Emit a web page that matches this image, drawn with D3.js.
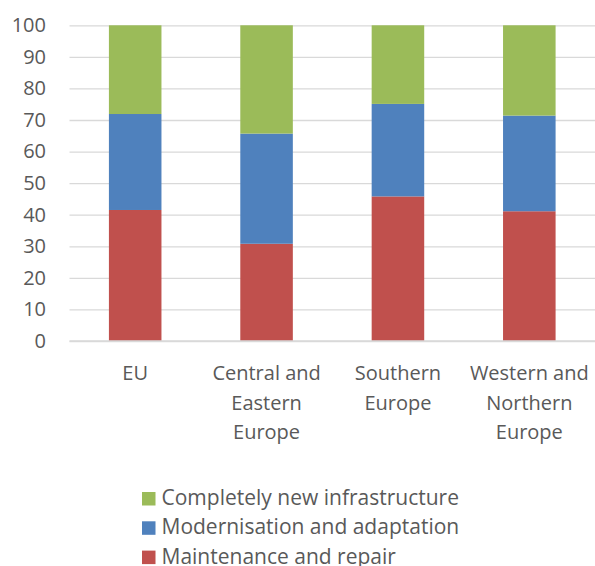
<!DOCTYPE html>
<html>
    <head>
        <script type="text/javascript" src="https://d3js.org/d3.v7.min.js"></script>
        <style>
            body { margin: 0; background: #fff; }
            text { font-family: "Open Sans", "Liberation Sans", sans-serif; fill: #595959; }
        </style>
    </head>
    <body>
        <svg id="chart" width="595" height="566"></svg>
        <script type="text/javascript">
            // data
            const regions = ["EU", "Central and Eastern Europe", "Southern Europe", "Western and Northern Europe"];
            const regionLines = [["EU"], ["Central and", "Eastern", "Europe"], ["Southern", "Europe"], ["Western and", "Northern", "Europe"]];
            const maintenance = [41.5, 30.8, 45.8, 41.1];
            const modernisation = [30.4, 34.9, 29.3, 30.3];
            const completelyNew = [28.1, 34.3, 24.9, 28.6];
            const seriesNames = ["Maintenance and repair", "Modernisation and adaptation", "Completely new infrastructure"];
            const seriesColors = ["#c0504d", "#4f81bd", "#9bbb59"];
            const yTicks = [0, 10, 20, 30, 40, 50, 60, 70, 80, 90, 100];

            const svg = d3.select("#chart");
            const plotLeft = 69.5, plotRight = 595, plotTop = 25.3, plotBottom = 341;

            const x = d3.scaleBand().domain(regions).range([plotLeft, plotRight]).paddingInner(0.6).paddingOuter(0.3);
            const y = d3.scaleLinear().domain([0, 100]).range([plotBottom, plotTop]);

            // gridlines
            svg.append("g")
                .attr("transform", "translate(" + plotLeft + ",0)")
                .call(d3.axisLeft(y).tickValues(yTicks).tickSize(-(plotRight - plotLeft)).tickFormat(""))
                .call(g => g.select(".domain").remove())
                .call(g => g.selectAll("line").attr("stroke", "#d9d9d9").attr("stroke-width", 1.3));

            // y tick labels
            svg.append("g")
                .attr("transform", "translate(" + (plotLeft - 23.5) + ",0)")
                .call(d3.axisLeft(y).tickValues(yTicks).tickSize(0).tickPadding(0))
                .call(g => g.select(".domain").remove())
                .call(g => g.selectAll("text").style("font-size", "20px").attr("fill", "#595959"));

            // stack the series
            const rows = regions.map((r, i) => ({region: r, m: maintenance[i], mo: modernisation[i], n: completelyNew[i]}));
            const stack = d3.stack().keys(["m", "mo", "n"])(rows);

            svg.append("g").selectAll("g")
                .data(stack)
                .enter().append("g")
                .attr("fill", (d, i) => seriesColors[i])
                .selectAll("rect")
                .data(d => d)
                .enter().append("rect")
                .attr("x", d => x(d.data.region))
                .attr("width", x.bandwidth())
                .attr("y", d => y(d[1]))
                .attr("height", d => y(d[0]) - y(d[1]));

            // x axis line
            svg.append("line")
                .attr("x1", plotLeft).attr("x2", plotRight)
                .attr("y1", y(0)).attr("y2", y(0))
                .attr("stroke", "#d9d9d9").attr("stroke-width", 1.3);

            // category labels
            const xl = svg.append("g").selectAll("text")
                .data(regions)
                .enter().append("text")
                .attr("x", d => x(d) + x.bandwidth() / 2)
                .attr("y", 380)
                .attr("text-anchor", "middle")
                .style("font-size", "20px");
            xl.each(function(d, i) {
                d3.select(this).selectAll("tspan")
                    .data(regionLines[i])
                    .enter().append("tspan")
                    .attr("x", x(d) + x.bandwidth() / 2)
                    .attr("dy", (t, j) => j === 0 ? 0 : 29.7)
                    .text(t => t);
            });

            // legend, top to bottom: new, modernisation, maintenance
            const legendOrder = [2, 1, 0];
            const lg = svg.append("g").selectAll("g")
                .data(legendOrder)
                .enter().append("g")
                .attr("transform", (d, i) => "translate(142," + (505 + i * 29.3) + ")");
            lg.append("rect")
                .attr("x", 0).attr("y", -13)
                .attr("width", 13.5).attr("height", 13.5)
                .attr("fill", d => seriesColors[d]);
            lg.append("text")
                .attr("x", 19.5).attr("y", 0)
                .style("font-size", "21px")
                .text(d => seriesNames[d]);
        </script>
    </body>
</html>
